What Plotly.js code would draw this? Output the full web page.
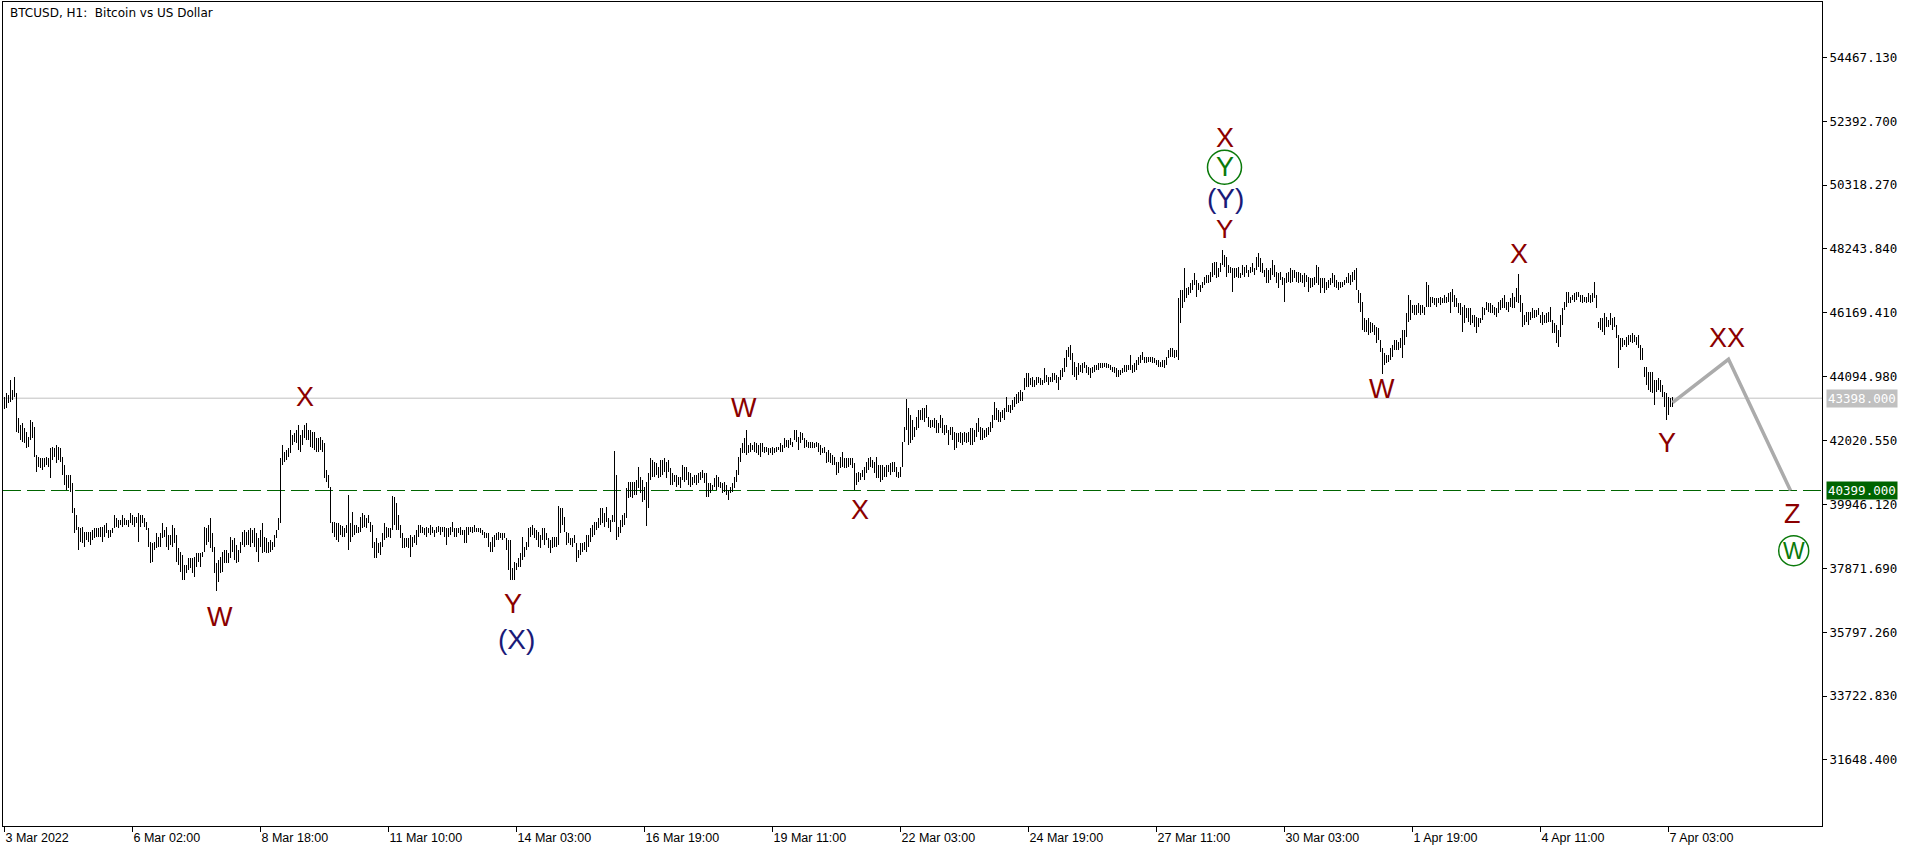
<!DOCTYPE html>
<html><head><meta charset="utf-8">
<script src="https://cdn.plot.ly/plotly-3.0.1.min.js"></script>
<style>html,body{margin:0;padding:0;background:#fff;overflow:hidden}#chart{width:1916px;height:852px}
#chart .scatterlayer .trace:nth-child(1) path.js-line{shape-rendering:crispEdges}
</style>
</head><body><div id="chart"></div>
<script>
// Hourly BTCUSD bars (high / low), bar index 0 = 3 Mar 2022
const barHigh = [
43447,43555,43501,43988,43664,44097,43555,42743,42527,42581,
42418,42310,42148,42689,42635,42473,41552,41498,41444,41444,
41444,41498,41444,41769,41823,41769,41877,41823,41769,41498,
41228,40903,40903,40903,40632,39820,39603,39225,39170,39225,
39062,39062,39062,39062,39116,39170,39170,39170,39225,39225,
39279,39333,39116,39116,39170,39603,39495,39441,39441,39603,
39495,39441,39441,39658,39603,39549,39549,39658,39603,39603,
39495,39387,39170,38737,38683,38737,39008,38900,39008,39333,
39116,39225,38954,38954,39279,39170,38954,38521,38412,38304,
37979,37979,38196,38196,38196,38250,38358,38358,38358,38412,
39225,39170,39279,39495,39008,38575,38034,38142,38250,38412,
38467,38467,38358,38900,38791,38846,38629,38467,38737,39062,
39116,39062,39116,39170,39116,39170,39008,38846,39116,39333,
38900,38846,38737,38791,38737,38954,39116,39495,41444,41877,
41661,41715,41769,42364,42202,42256,42364,42527,42202,42364,
42527,42581,42364,42364,42310,42310,42094,42094,42148,42040,
41931,41065,40903,40524,39387,39387,39333,39333,
39279,39246,39171,39279,40253,39333,39712,39279,39279,39225,
39550,39658,39604,39495,39604,39387,39279,38738,38846,38683,
38738,39008,39333,39225,39171,39171,40221,40199,39983,39604,
39279,39008,38846,38846,38846,38954,38900,38954,39117,39279,
39279,39225,39171,39225,39171,39279,39225,39117,39225,39246,
39225,39225,39225,39171,39171,39225,39387,39171,39171,39171,
39225,39117,39117,39225,39225,39225,39225,39279,39192,39171,
39171,39117,39062,39008,39008,38738,38900,38954,39008,39062,
39008,39008,39008,38846,38792,38792,37871,38088,38034,38196,
38359,38900,38575,38738,39171,39225,39279,39171,39117,39062,
38954,39171,39171,39008,38846,38792,38900,38900,38900,39896,
39820,39820,39550,39062,39008,38846,38846,38954,38683,38467,
38683,38683,38738,38954,38954,39171,39279,39387,39387,39495,
39820,39820,39658,39874,39495,39441,39604,41682,40903,39225,
39441,39604,39658,40470,40686,40686,40686,40686,40741,41174,
40849,40741,40524,40686,40957,41444,41390,41336,41282,41174,
41390,41390,41444,41336,41390,41119,40957,40903,
40903,40849,40849,41228,41174,41174,41012,40957,40849,40903,
40903,40957,41012,41066,40957,40957,40633,40633,40578,40795,
40903,40849,40687,40633,40687,40578,40416,40524,40633,40849,
41066,41499,41770,41932,42094,42365,41878,41932,41878,41986,
41932,41878,41932,41932,41824,41824,41770,41770,41824,41770,
41824,41824,41932,41878,42094,42040,42040,42094,41986,42365,
42365,42148,42311,42257,42094,42040,41986,41986,41986,41932,
41986,41932,41878,41770,41824,41661,41715,41607,41553,41499,
41336,41336,41499,41661,41445,41445,41445,41445,41445,41282,
40957,41012,40957,41066,41174,41336,41445,41499,41390,41336,
41499,41228,41228,41228,41174,41228,41228,41282,41336,41336,
41174,41012,41174,41986,42473,43361,43069,42852,42690,42473,
42798,43015,43015,43069,43069,43177,42798,42690,42690,42744,
42690,42581,42852,42744,42527,42527,42365,42473,42473,42311,
42257,42257,42311,42257,42311,42257,42311,42419,42419,42365,
42581,42744,42473,42419,42365,42419,42473,42636,42852,43285,
43069,43015,42960,43015,43069,43448,43177,43177,
43350,43450,43550,43600,43650,43600,44043,44205,44205,44043,
44097,43989,44097,44097,44043,43989,44368,44151,44097,44097,
44205,44205,44151,44097,44313,44368,44692,44963,45071,45125,
44855,44584,44422,44530,44476,44530,44584,44476,44422,44368,
44422,44476,44476,44530,44530,44552,44552,44530,44508,44476,
44422,44422,44368,44313,44313,44368,44476,44476,44476,44801,
44476,44530,44638,44747,44801,44909,44747,44747,44747,44747,
44747,44692,44638,44638,44584,44638,44638,44747,44963,45017,
45017,44963,44963,46641,46912,46912,47616,46966,47020,47128,
47237,47453,47237,47128,47074,47183,47345,47399,47399,47507,
47778,47832,47832,47616,47778,48211,48049,47995,47724,47670,
47616,47616,47616,47670,47453,47724,47670,47724,47562,47670,
47778,47616,47995,48103,47941,47778,47562,47616,47562,47616,
47886,47724,47507,47453,47507,47345,47291,47453,47507,47616,
47562,47562,47507,47507,47453,47399,47453,47399,47345,47291,
47291,47345,47724,47670,47291,47291,47291,47183,47237,47291,
47453,47399,47237,47183,47183,47183,47237,47345,
47453,47399,47507,47561,47615,46912,46803,46533,45991,45937,
45991,45883,45829,45775,45721,45667,45288,45017,44854,44800,
44800,45017,45125,45288,45288,45233,45342,45612,45612,46154,
46749,46587,46424,46424,46424,46479,46424,46424,46370,47182,
47074,46695,46695,46641,46641,46641,46695,46641,46749,46695,
46803,46857,46933,46749,46641,46479,46479,46370,46424,46316,
46316,46316,46100,46100,46045,45991,45991,46370,46316,46533,
46479,46479,46424,46370,46316,46533,46587,46641,46749,46533,
46533,46641,46803,46695,46966,47431,46749,46479,46100,46208,
46208,46208,46316,46262,46262,46316,46100,46208,46100,46154,
46208,46370,45937,45829,45775,45612,46100,46316,46533,46857,
46857,46695,46749,46803,46857,46857,46749,46749,46695,46695,
46803,46749,46803,47182,46749,45883,45991,45991,46154,46045,
45937,46154,45991,46045,45775,45450,45342,45342,45288,45396,
45450,45450,45504,45450,45396,45450,45125,45017,44421,44421,
44259,44259,44259,43988,43988,44042,43988,43826,43609,43555,
43447,43393,43447
];
const barLow = [
43036,43068,43231,43285,43339,43447,42310,42256,42040,41985,
41931,41769,41823,42040,42094,41498,41011,41173,41119,41065,
41173,41228,41173,40794,41390,41498,41282,41390,41336,40903,
40578,40416,40470,40361,39658,39008,39116,38467,38737,38683,
38575,38791,38737,38629,38791,38846,38900,38900,38900,38737,
38900,39008,38846,38900,39008,39170,39225,39170,39279,39225,
39279,39279,39225,39333,39279,39225,39333,38737,39225,39333,
39225,39116,38575,38034,38088,38467,38521,38575,38575,38846,
38900,38575,38467,38629,38575,38683,38088,37979,37763,37492,
37492,37709,37817,37871,37709,37600,37925,38088,37925,38250,
38412,38629,38737,38521,38412,37709,37135,37438,37709,37763,
38034,38034,38034,38196,38412,38142,38034,38088,38358,38629,
38575,38629,38629,38575,38683,38575,38412,38088,38575,38358,
38412,38358,38358,38412,38467,38575,38846,39116,39333,41228,
41336,41390,41498,41606,41877,41985,41931,41715,41661,41877,
42094,42040,42040,41823,41769,41715,41661,41661,41715,41661,
40794,40686,40470,39333,39008,38900,38791,38737,
38954,38900,38900,39008,38467,38738,38900,38954,39008,39008,
39062,39171,39225,39171,39333,39062,38521,38196,38196,38359,
38305,38575,38792,38846,38900,38846,39117,39279,39117,39117,
38846,38521,38521,38575,38521,38250,38575,38683,38629,38900,
39008,39008,38954,38900,39008,38954,39008,38900,39008,39062,
38954,39062,38900,38629,38900,38954,39062,38900,38900,39008,
38954,38954,38683,38683,38954,39062,39008,39062,39062,39062,
39008,38954,38846,38846,38575,38413,38413,38575,38792,38792,
38846,38792,38846,38467,37817,37492,37492,37492,37817,37926,
37926,38142,38250,38467,38575,38900,38954,38846,38792,38575,
38521,38792,38629,38792,38521,38359,38521,38575,38575,38629,
39008,39279,39062,38629,38683,38629,38575,38683,38088,38196,
38305,38413,38467,38413,38575,38738,38900,38954,39117,39171,
39279,39333,39225,39387,39171,39062,39387,39387,38792,38900,
39008,39225,39279,39495,40145,40199,40145,40253,40253,40470,
40307,40037,40091,39257,39820,40741,40849,40849,40903,40795,
40849,40903,41011,40795,41011,40578,40578,40686,
40524,40578,40470,40741,40687,40741,40578,40524,40578,40633,
40578,40633,40741,40795,40633,40200,40200,40308,40416,40524,
40416,40524,40470,40308,40362,40254,40091,40308,40362,40470,
40687,40903,41336,41607,41607,41553,41607,41661,41715,41661,
41607,41553,41499,41661,41607,41661,41553,41607,41553,41607,
41661,41715,41661,41661,41770,41824,41770,41878,41824,42040,
41986,41715,41932,42040,41770,41824,41770,41770,41770,41770,
41824,41661,41553,41607,41607,41282,41336,41282,41228,41228,
40903,40957,41120,41174,41120,41120,41174,41228,41120,40416,
40578,40687,40741,40849,40741,40957,41066,41174,41120,40957,
40795,40795,40687,40741,40849,40849,41012,40903,41012,41012,
40849,40795,40849,41174,41986,42365,41878,41932,42040,42148,
42365,42419,42690,42690,42636,42744,42473,42419,42473,42419,
42257,42257,42419,42257,42203,42257,41878,42203,42040,41715,
41770,41986,41932,41878,41986,41932,41986,41878,41878,41986,
42148,42311,42040,42040,42094,42148,42203,42311,42419,42690,
42690,42636,42636,42744,42690,42960,42960,42906,
43000,43100,43200,43250,43300,43300,43664,43772,43772,43826,
43772,43772,43826,43880,43826,43826,43880,43935,43826,43935,
43935,43989,43880,43664,43989,44097,44259,44422,44747,44638,
44151,44097,43989,44151,44259,44205,44368,44205,44151,44043,
44205,44259,44313,44313,44368,44368,44400,44368,44368,44313,
44259,44205,44097,44097,44151,44205,44259,44259,44313,44313,
44205,44259,44313,44476,44530,44638,44530,44530,44584,44584,
44530,44530,44476,44422,44422,44422,44368,44476,44692,44747,
44747,44692,44747,44638,45829,46317,46533,46641,46749,46804,
46912,47074,46695,46912,46858,46966,47074,47128,47128,47183,
47345,47399,47291,47345,47507,47724,47670,47345,47453,47453,
46858,47291,47345,47291,47291,47399,47345,47453,47345,47453,
47507,47399,47562,47670,47507,47453,47345,47128,47128,47237,
47399,47345,47128,46966,47237,47074,46533,47128,47183,47128,
47183,47291,47183,47128,47183,47128,47020,47183,46858,46966,
47020,47074,47128,47074,46804,46966,46804,46912,46966,47074,
47128,47020,46966,46912,46966,47020,47074,47128,
47128,47074,47182,47236,46912,46479,46208,45612,45558,45558,
45450,45504,45558,45450,45179,45288,44909,44172,44476,44530,
44584,44638,44746,44963,44963,44963,45017,44692,45125,45396,
45883,45937,46154,46100,46100,46154,46100,46154,46100,46370,
46370,46370,46479,46424,46370,46479,46424,46479,46479,46479,
46533,46154,46533,46370,46370,46154,46100,45558,45829,45991,
45883,45775,45829,45721,45504,45721,45829,45937,46100,46262,
46208,46154,46154,46100,46045,46154,46262,46316,46316,46262,
46208,46370,46316,46316,46533,46479,46208,45721,45775,45883,
45775,45937,45991,45991,46045,46100,45829,45775,45829,45829,
45883,45883,45504,45504,45179,45071,45396,45775,46262,46370,
46479,46479,46587,46533,46587,46695,46533,46479,46533,46479,
46533,46479,46533,46641,46316,45667,45612,45558,45450,45721,
45721,45775,45612,45721,45342,44367,44963,45071,45125,45071,
45125,45233,45179,45233,45125,45017,44638,44638,44097,43826,
43663,43609,43555,43176,43609,43663,43609,43447,43122,42689,
42851,43122,43122
];

// Time axis labels (bar index where each label sits)
const tickBars = [0,64,128,192,256,320,384,448,512,576,640,704,768,832];
const tickLabels = ['3 Mar 2022','6 Mar 02:00','8 Mar 18:00','11 Mar 10:00','14 Mar 03:00','16 Mar 19:00','19 Mar 11:00','22 Mar 03:00','24 Mar 19:00','27 Mar 11:00','30 Mar 03:00','1 Apr 19:00','4 Apr 11:00','7 Apr 03:00'];

// Price axis ticks
const priceTicks = [31648.4,33722.83,35797.26,37871.69,39946.12,42020.55,44094.98,46169.41,48243.84,50318.27,52392.7,54467.13];

// Levels
const currentPrice = 43398;
const targetPrice = 40399;

// Forecast path
const projBars = [834, 862, 893];
const projPrices = [43250, 44660, 40399];

// Elliott wave marks
const waveText   = ['W','X','Y','(X)','W','X','X','Y','(Y)','Y','W','X','Y','XX','Z','W'];
const waveDegree = ['minor','minor','minor','intermediate','minor','minor','minor','primary','intermediate','minor','minor','minor','minor','minor','minor','primary'];
const waveBar    = [107.5,150,254,255.8,369.8,427.5,610,610,610.5,610,688.5,757,831.3,861.3,894.2,894.6];
const wavePrice  = [36290,43430,36726,35576,43069,39782,51839,50897,49868,48900,43696,48081,41933,45343,39636,38444];
</script>
<script>
const bx = [], by = [];
for (let i = 0; i < barHigh.length; i++) { bx.push(i, i, null); by.push(barLow[i], barHigh[i], null); }

const traces = [
  {type:'scatter', mode:'lines', x:bx, y:by, line:{color:'#000', width:1}, hoverinfo:'skip', connectgaps:false},
  {type:'scatter', mode:'lines', x:projBars, y:projPrices, line:{color:'#ababab', width:3.5}, hoverinfo:'skip'}
];

const degreeStyle = {
  minor:{color:'#8b0000', size:27},
  intermediate:{color:'#1a1a78', size:28},
  primary:{color:'#0b7a0b', size:26}
};

const annotations = [];
const shapes = [
  {type:'line', xref:'paper', x0:0, x1:1, yref:'y', y0:currentPrice, y1:currentPrice, line:{color:'#c0c0c0', width:1}, layer:'below'},
  {type:'line', xref:'paper', x0:0, x1:1, yref:'y', y0:targetPrice, y1:targetPrice, line:{color:'#006400', width:1, dash:'18px,6px'}, layer:'below'}
];

for (let k = 0; k < waveText.length; k++) {
  const st = degreeStyle[waveDegree[k]];
  let size = st.size;
  if (waveDegree[k] === 'primary') {
    const r = waveText[k] === 'W' ? 15 : 17;
    size = waveText[k] === 'W' ? 23 : 27;
    shapes.push({type:'circle', xref:'x', yref:'y', xsizemode:'pixel', ysizemode:'pixel',
      xanchor:waveBar[k], yanchor:wavePrice[k], x0:-r, x1:r, y0:-r, y1:r,
      line:{color:'#0b7a0b', width:1.5}});
  }
  // the lowest label of the stacked top group is slightly smaller to keep the stack compact
  if (k === 9) size = 26;
  annotations.push({x:waveBar[k], y:wavePrice[k], xref:'x', yref:'y', text:waveText[k], showarrow:false,
    xanchor:'center', yanchor:'middle', font:{family:'Liberation Sans, Arial, sans-serif', size:size, color:st.color}});
}

annotations.push({xref:'paper', yref:'paper', x:0, y:1, xanchor:'left', yanchor:'top', xshift:5, yshift:-2,
  text:'BTCUSD, H1: \u00a0Bitcoin vs US Dollar', showarrow:false,
  font:{family:'DejaVu Sans, sans-serif', size:12, color:'#000'}});

annotations.push({xref:'paper', yref:'y', x:1, y:currentPrice, xanchor:'left', yanchor:'middle', xshift:4,
  text:currentPrice.toFixed(3), showarrow:false, bgcolor:'#c0c0c0', borderpad:1,
  font:{family:'DejaVu Sans Mono, monospace', size:12.5, color:'#fff'}});
annotations.push({xref:'paper', yref:'y', x:1, y:targetPrice, xanchor:'left', yanchor:'middle', xshift:4,
  text:targetPrice.toFixed(3), showarrow:false, bgcolor:'#006400', borderpad:1,
  font:{family:'DejaVu Sans Mono, monospace', size:12.5, color:'#fff'}});

const layout = {
  width:1916, height:852,
  margin:{l:3, r:94, t:2, b:26, pad:0},
  paper_bgcolor:'#fff', plot_bgcolor:'#fff',
  showlegend:false,
  xaxis:{range:[-0.75, 908.75], showgrid:false, zeroline:false, showline:true, mirror:true,
    linecolor:'#000', linewidth:1, tickmode:'array', tickvals:tickBars, ticktext:tickLabels,
    ticks:'outside', ticklen:5, tickcolor:'#000', tickwidth:1, ticklabelposition:'outside right',
    tickfont:{family:'Liberation Sans, Arial, sans-serif', size:12.5, color:'#000'}},
  yaxis:{range:[29502, 56266], side:'right', showgrid:false, zeroline:false, showline:true, mirror:true,
    linecolor:'#000', linewidth:1, tickmode:'array', tickvals:priceTicks,
    ticktext:priceTicks.map(v => v.toFixed(3)), ticks:'outside', ticklen:4, tickcolor:'#000', tickwidth:1,
    tickfont:{family:'DejaVu Sans Mono, monospace', size:12.5, color:'#000'}},
  shapes:shapes,
  annotations:annotations
};

Plotly.newPlot('chart', traces, layout, {staticPlot:true, displayModeBar:false});
</script>
</body></html>
